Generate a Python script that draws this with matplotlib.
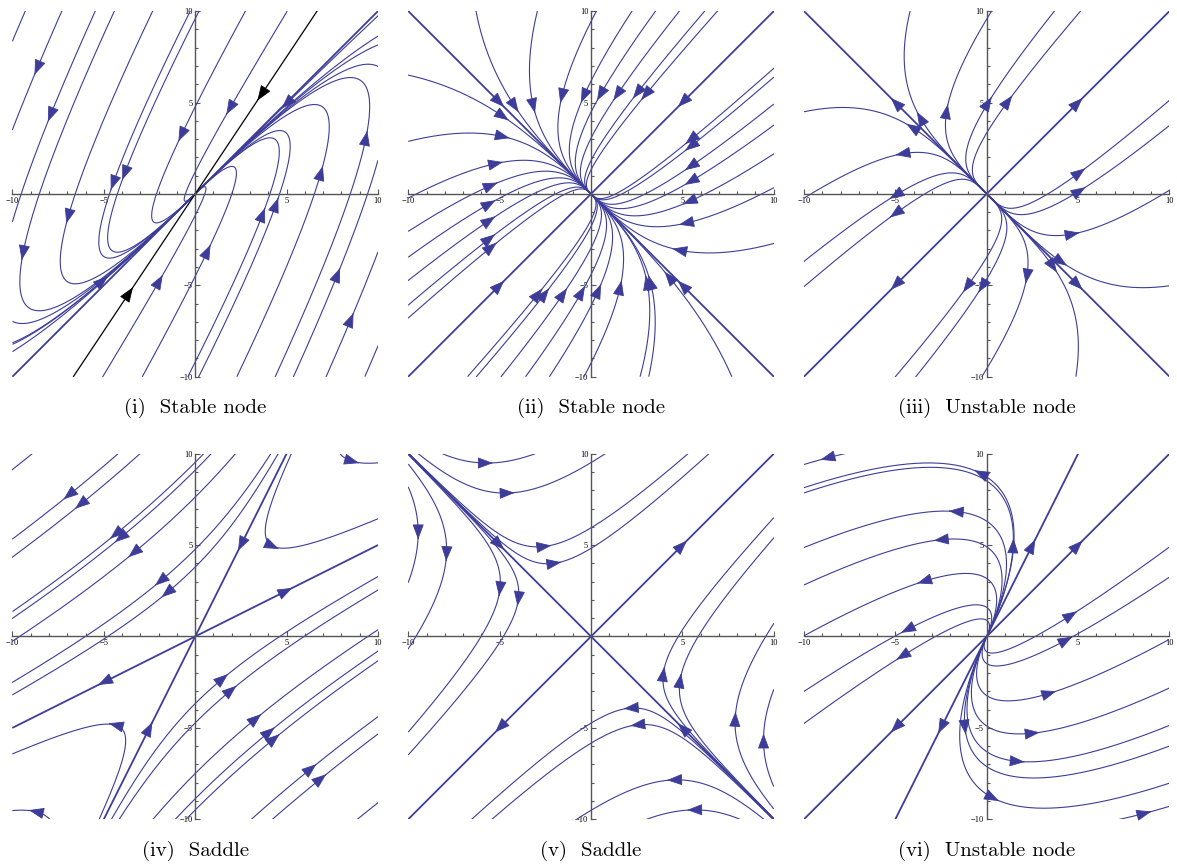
import numpy as np
import matplotlib
matplotlib.use("Agg")
from matplotlib import pyplot as plt

# linear systems x' = A x, one per panel
A1 = [[1, -2], [3, -4]]
A2 = [[-2, -1], [-1, -2]]
A3 = [[2.5, 1.5], [1.5, 2.5]]
A4 = [[3, -2], [2, -2]]
A5 = [[1.5, 2.5], [2.5, 1.5]]
A6 = [[11, -3], [6, 2]]

captions = ["(i)  Stable node", "(ii)  Stable node", "(iii)  Unstable node",
            "(iv)  Saddle", "(v)  Saddle", "(vi)  Unstable node"]

# points on the streamlines where the reference draws an arrow
arrows1 = [(-8.66, 6.84), (-7.93, 4.28), (-9.43, -3.28), (-6.96, -1.28), (-4.5, 0.55),
           (-3.87, 1.09), (-0.77, 3.19), (1.88, 4.65), (4.98, 4.92), (0.69, -3.1),
           (-1.95, -4.74), (-5.05, -4.74), (3.7, -1.09), (4.43, -0.55), (6.89, 1.19),
           (9.35, 3.1), (7.8, -4.38), (8.53, -6.84)]
arrows2 = [(-4.16, 4.77), (-3.15, 4.77), (-1.6, 5.31), (-0.41, 5.31), (0.5, 5.41),
           (1.42, 5.41), (2.51, 5.5), (2.97, 5.41), (-4.79, 4.22), (-4.79, 3.13),
           (-5.16, 1.67), (-5.43, 0.48), (-5.53, -0.52), (-5.53, -1.43), (-5.53, -2.43),
           (-5.43, -2.89), (-2.88, -5.45), (-2.51, -5.45), (-1.51, -5.45), (-0.5, -5.35),
           (0.41, -5.26), (1.6, -5.08), (3.06, -4.8), (3.24, -4.8), (4.25, -4.53),
           (4.79, -3.07), (5.16, -1.61), (5.34, -0.43), (5.43, 0.67), (5.43, 1.49),
           (5.43, 2.58), (5.43, 2.95)]
arrows3 = [(-3.65, 4.19), (-4.1, 3.65), (-2.19, 4.56), (0.09, 5.01), (1.19, 5.1),
           (-4.65, 2.19), (5.11, 1.19), (5.11, 0.18), (4.74, -2.19), (4.11, -3.74),
           (3.65, -4.01), (2.19, -4.56), (-0.27, -5.1), (-1.09, -5.1), (-5.02, -0.09),
           (-5.02, -1.09)]
arrows4 = [(-6.94, 7.72), (-6.3, 7.21), (-4.39, 5.57), (-4.12, 5.38), (-3.39, 4.56),
           (-1.93, 3.01), (-1.57, 2.37), (4.26, 4.93), (8.63, 9.58), (-4.39, -4.84),
           (1.53, -2.28), (1.99, -2.92), (3.35, -4.47), (4.08, -5.2), (4.35, -5.57),
           (6.36, -7.21), (6.9, -7.76), (-8.76, -9.58)]
arrows5 = [(-5.72, 9.49), (-4.53, 7.85), (-9.46, 5.66), (-7.91, 4.47), (-4.99, 2.55),
           (-3.98, 2.01), (-2.52, 4.93), (-1.97, 4.01), (3.96, -2.01), (4.88, -2.37),
           (2.14, -3.92), (2.5, -4.84), (7.89, -4.47), (9.44, -5.66), (4.51, -7.85),
           (5.61, -9.49)]
arrows6 = [(-8.76, 9.76), (-0.36, 8.94), (-1.73, 6.84), (-2.55, 5.29), (-3.47, 3.01),
           (-4.38, 0.36), (-4.65, -1.09), (1.45, 5.02), (4.65, 1.19), (4.38, -0.18),
           (3.47, -3.1), (2.55, -5.29), (1.73, -6.84), (0.36, -8.85), (-1.19, -5.02),
           (8.67, -9.67)]

# straight-line solutions (eigen-directions), arrow positions on them
eig1 = []
eig2 = [(5, 5), (-5, -5), (-5, 5), (5, -5)]
eig3 = [(5, 5), (-5, -5), (-5, 5), (5, -5)]
eig4 = [(2.5, 5), (-2.5, -5), (5, 2.5), (-5, -2.5)]
eig5 = [(5, 5), (-5, -5), (-5, 5), (5, -5)]
eig6 = [(2.5, 5), (-2.5, -5), (5, 5), (-5, -5)]
eig_plain1 = [(5, 5), (-5, -5)]
black1 = [(3.6, 5.4), (-3.6, -5.4)]

# extra streamlines without arrows
plain1 = [(9.9, 8.57), (9.9, 8.11), (9.9, 7.02), (-9.9, -7.02), (-9.9, -8.11), (-9.9, -8.57),
          (-9.68, 9.12), (9.63, -9.2)]
plain2 = []
plain3 = []
plain4 = [(-9.47, 9.56), (9.45, -9.54)]
plain5 = []
plain6 = []

BLUE = "#3d3d99"
T = np.linspace(-15, 15, 30001)


def trajectory(A, p0):
    A = np.array(A, float)
    lam, V = np.linalg.eig(A)
    c = np.linalg.solve(V, np.array(p0, float))
    pts = (V @ (c[:, None] * np.exp(np.outer(lam, T)))).real
    x, y = pts
    inside = (np.abs(x) <= 10) & (np.abs(y) <= 10)
    i0 = len(T) // 2
    out = np.where(~inside)[0]
    left = out[out < i0]
    right = out[out > i0]
    lo = left.max() if len(left) else 0
    hi = right.min() if len(right) else len(T) - 1
    return x[lo:hi + 1], y[lo:hi + 1]


def draw(ax, A, seeds, color=BLUE, lw=0.8, arrow=True):
    for p in seeds:
        x, y = trajectory(A, p)
        ax.plot(x, y, color=color, lw=lw, solid_capstyle="butt")
        if arrow:
            d = np.array(A, float) @ np.array(p, float)
            d = d / np.hypot(*d)
            tip = np.array(p) + 0.35 * d
            ax.annotate("", xy=tip, xytext=tip - 0.05 * d,
                        arrowprops=dict(arrowstyle="-|>,head_length=0.8,head_width=0.3",
                                        color=color, lw=0.6, shrinkA=0, shrinkB=0,
                                        mutation_scale=12))


def style(ax):
    ax.set_xlim(-10, 10)
    ax.set_ylim(-10, 10)
    ax.set_aspect("equal")
    for s in ["top", "right"]:
        ax.spines[s].set_visible(False)
    for s in ["left", "bottom"]:
        ax.spines[s].set_position("zero")
        ax.spines[s].set_color("#555555")
        ax.spines[s].set_linewidth(1.0)
    ticks = [-10, -5, 5, 10]
    labels = ["\u221210", "\u22125", "5", "10"]
    ax.set_xticks(ticks)
    ax.set_xticklabels(labels)
    ax.set_yticks(ticks)
    ax.set_yticklabels(labels)
    minor = [v for v in range(-9, 10) if v % 5 != 0]
    ax.set_xticks(minor, minor=True)
    ax.set_yticks(minor, minor=True)
    ax.tick_params(which="both", direction="in", color="#555555", width=0.8,
                   labelsize=6, pad=2)
    ax.tick_params(which="major", length=3.5)
    ax.tick_params(which="minor", length=2)
    for lab in ax.get_xticklabels() + ax.get_yticklabels():
        lab.set_fontfamily("Liberation Serif")
    ax.patch.set_visible(False)


fig = plt.figure(figsize=(11.77, 8.68), dpi=100)
lefts = [0.0106, 0.3469, 0.6831]
bottoms = [0.566, 0.0561]
W, H = 0.3105, 0.4213

panels = [(A1, arrows1, eig1, plain1), (A2, arrows2, eig2, plain2), (A3, arrows3, eig3, plain3),
          (A4, arrows4, eig4, plain4), (A5, arrows5, eig5, plain5), (A6, arrows6, eig6, plain6)]

for k, (A, arr, eig, plain) in enumerate(panels):
    ax = fig.add_axes([lefts[k % 3], bottoms[k // 3], W, H])
    style(ax)
    draw(ax, A, arr)
    draw(ax, A, plain, arrow=False)
    draw(ax, A, eig, lw=1.3)
    if k == 0:
        draw(ax, A, eig_plain1, lw=1.3, arrow=False)
        draw(ax, A, black1, color="black", lw=0.9)
    fig.text(lefts[k % 3] + W / 2, bottoms[k // 3] - 0.036, captions[k],
             ha="center", va="center", fontsize=15, fontfamily="cmr10")

fig.savefig("out.png", dpi=100)
